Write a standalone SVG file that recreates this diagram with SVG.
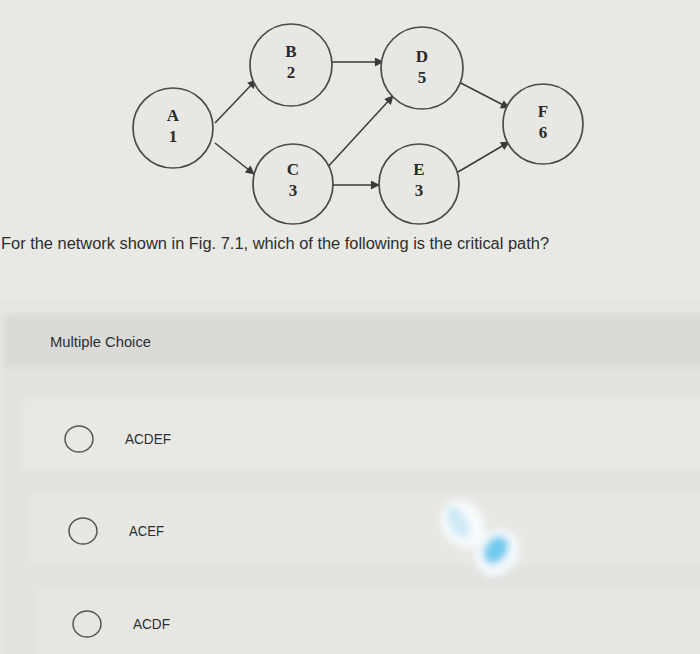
<svg xmlns="http://www.w3.org/2000/svg" width="700" height="654" viewBox="0 0 700 654">
<defs>
<style>
.node circle{fill:#e7e7e4;stroke:#4a4a4a;stroke-width:1.7}
.node text{font-family:"Liberation Serif",serif;font-weight:bold;font-size:17px;fill:#2a2a2a;text-anchor:middle}
.edge{stroke:#3a3a3a;stroke-width:1.5;fill:none;marker-end:url(#ah)}
.ui{font-family:"Liberation Sans",Arial,sans-serif;fill:#2e2e2e}
.radio{fill:none;stroke:#555;stroke-width:1.5}
</style>
<marker id="ah" viewBox="0 0 10 10" refX="9" refY="5" markerWidth="10" markerHeight="9" markerUnits="userSpaceOnUse" orient="auto">
<path d="M0,0 L10,5 L0,10 z" fill="#3a3a3a"/>
</marker>
<filter id="blur" x="-50%" y="-50%" width="200%" height="200%"><feGaussianBlur stdDeviation="3.5"/></filter>
<filter id="soft" x="-5%" y="-20%" width="110%" height="140%"><feGaussianBlur stdDeviation="3"/></filter>
</defs>
<rect x="0" y="0" width="700" height="654" fill="#e6e6e3"/>
<rect x="0" y="0" width="700" height="300" fill="#e8e8e5"/>
<!-- multiple choice panel -->
<g filter="url(#soft)">
<rect x="3" y="314" width="720" height="54" fill="#dadad7"/>
<rect x="3" y="368" width="720" height="300" fill="#e2e2df"/>
<rect x="22" y="400" width="720" height="70" fill="#e8e8e5"/>
<rect x="30" y="494" width="720" height="70" fill="#e7e7e4"/>
<rect x="36" y="588" width="720" height="70" fill="#e6e6e3"/>
</g>

<g id="connectors">
<line class="edge" x1="215" y1="123" x2="256" y2="80"/>
<line class="edge" x1="215" y1="143" x2="254" y2="174"/>
<line class="edge" x1="332" y1="62" x2="383" y2="62"/>
<line class="edge" x1="325" y1="170" x2="393" y2="96"/>
<line class="edge" x1="330" y1="185" x2="379" y2="185"/>
<line class="edge" x1="455" y1="80" x2="509" y2="108"/>
<line class="edge" x1="458" y1="172" x2="509" y2="142"/>
</g>

<g id="node-A" class="node"><circle cx="173" cy="128" r="40"/><text x="173" y="121">A</text><text x="173" y="142">1</text></g>
<g id="node-B" class="node"><circle cx="291" cy="65" r="41"/><text x="291" y="57">B</text><text x="291" y="78">2</text></g>
<g id="node-C" class="node"><circle cx="293" cy="184" r="40"/><text x="293" y="175">C</text><text x="293" y="196">3</text></g>
<g id="node-D" class="node"><circle cx="422" cy="68" r="41"/><text x="422" y="62">D</text><text x="422" y="83">5</text></g>
<g id="node-E" class="node"><circle cx="419" cy="184" r="40"/><text x="419" y="175">E</text><text x="419" y="196">3</text></g>
<g id="node-F" class="node"><circle cx="543" cy="124" r="40"/><text x="543" y="117">F</text><text x="543" y="138">6</text></g>

<text class="ui" x="1" y="249" font-size="16" textLength="548" lengthAdjust="spacingAndGlyphs">For the network shown in Fig. 7.1, which of the following is the critical path?</text>
<text class="ui" x="50" y="347" font-size="14" textLength="101" lengthAdjust="spacingAndGlyphs">Multiple Choice</text>

<g id="option-1"><ellipse class="radio" cx="79" cy="439" rx="14" ry="13"/><text class="ui" x="125" y="444" font-size="14" textLength="46" lengthAdjust="spacingAndGlyphs">ACDEF</text></g>
<g id="option-2"><ellipse class="radio" cx="83" cy="531" rx="14" ry="13"/><text class="ui" x="129" y="536" font-size="14" textLength="35" lengthAdjust="spacingAndGlyphs">ACEF</text></g>
<g id="option-3"><ellipse class="radio" cx="87" cy="624" rx="14" ry="13"/><text class="ui" x="133" y="629" font-size="14" textLength="37" lengthAdjust="spacingAndGlyphs">ACDF</text></g>

<g filter="url(#blur)">
<ellipse cx="463" cy="524" rx="21" ry="26" transform="rotate(-35 463 524)" fill="#f6fafb"/>
<ellipse cx="458" cy="522" rx="9" ry="17" transform="rotate(-30 458 522)" fill="#cdeaf5"/>
<ellipse cx="497" cy="553" rx="21" ry="25" transform="rotate(35 497 553)" fill="#f3f9fc"/>
<ellipse cx="496" cy="550" rx="11" ry="15" transform="rotate(35 496 550)" fill="#72cbee"/>
</g>
</svg>
